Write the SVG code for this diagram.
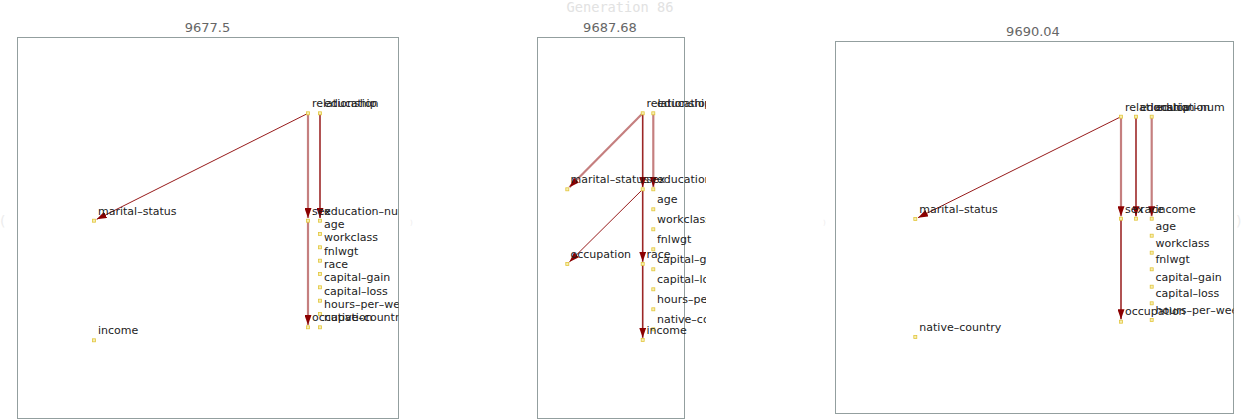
<svg xmlns="http://www.w3.org/2000/svg" width="1242" height="420" viewBox="0 0 1242 420">
<style>
.bg{fill:#ffffff}
.panel{fill:none;stroke:#939f9f;stroke-width:1}
.title{font-family:"DejaVu Sans",sans-serif;font-size:13px;fill:#666666;text-anchor:middle}
.gen{font-family:"DejaVu Sans Mono",monospace;font-size:13.7px;fill:#e2e2e2;text-anchor:middle}
.faint{font-family:"DejaVu Sans",sans-serif;fill:#ececec}
.lbl{font-family:"DejaVu Sans",sans-serif;font-size:11px;fill:#222222}
.sq{fill:#f7eeb0;stroke:#e2c53c;stroke-width:0.8}
.e-thin{fill:none;stroke:#8b0000;stroke-width:1;stroke-opacity:0.9}
.e-mid{fill:none;stroke:#8b0000;stroke-width:1.6;stroke-opacity:0.85}
.e-thick{fill:none;stroke:#8b0000;stroke-width:2.2;stroke-opacity:0.5}
.e-thin,.e-mid,.e-thick{marker-end:url(#arr)}
</style>
<defs>
<marker id="arr" markerUnits="userSpaceOnUse" markerWidth="10" markerHeight="7" refX="10" refY="3.5" orient="auto">
<path d="M0,0 L10,3.5 L0,7 Z" fill="#8b0000"/>
</marker>
<clipPath id="c1"><rect x="17" y="37" width="381.5" height="381.5"/></clipPath>
<clipPath id="c2"><rect x="537" y="37" width="169" height="381.5"/></clipPath>
<clipPath id="c3"><rect x="835" y="41" width="398.5" height="372.5"/></clipPath>
</defs>
<rect class="bg" x="0" y="0" width="1242" height="420"/>
<text class="gen" x="620" y="12">Generation 86</text>
<text class="faint" x="0" y="226" font-size="14">(</text>
<text class="faint" x="410" y="225" font-size="7">)</text>
<text class="faint" x="823" y="225" font-size="7">)</text>
<text class="faint" x="1236" y="226" font-size="14">)</text>

<!-- Panel 1 -->
<g id="panel1">
<text class="title" x="207.5" y="32">9677.5</text>
<rect class="panel" x="17.5" y="37.5" width="381" height="381"/>
<g clip-path="url(#c1)">
<g id="p1-connectors">
<line class="e-thin" x1="308" y1="113.3" x2="96.7" y2="219.3"/>
<line class="e-thick" x1="308" y1="113.3" x2="308" y2="218"/>
<line class="e-thick" x1="308" y1="220.7" x2="308" y2="325"/>
<line class="e-mid" x1="320" y1="113.3" x2="320" y2="218"/>
</g>
<g id="p1-relationship"><rect class="sq" x="306.5" y="111.8" width="3" height="3"/><text class="lbl" x="312" y="107.3">relationship</text></g>
<g id="p1-education"><rect class="sq" x="318.5" y="111.8" width="3" height="3"/><text class="lbl" x="324" y="107.3">education</text></g>
<g id="p1-marital-status"><rect class="sq" x="92.5" y="219.2" width="3" height="3"/><text class="lbl" x="98" y="214.7">marital–status</text></g>
<g id="p1-sex"><rect class="sq" x="306.5" y="219.2" width="3" height="3"/><text class="lbl" x="312" y="214.7">sex</text></g>
<g id="p1-education-num"><rect class="sq" x="318.5" y="219.2" width="3" height="3"/><text class="lbl" x="324" y="214.7">education–num</text></g>
<g id="p1-age"><rect class="sq" x="318.5" y="232.5" width="3" height="3"/><text class="lbl" x="324" y="228">age</text></g>
<g id="p1-workclass"><rect class="sq" x="318.5" y="245.8" width="3" height="3"/><text class="lbl" x="324" y="241.3">workclass</text></g>
<g id="p1-fnlwgt"><rect class="sq" x="318.5" y="259.2" width="3" height="3"/><text class="lbl" x="324" y="254.7">fnlwgt</text></g>
<g id="p1-race"><rect class="sq" x="318.5" y="272.5" width="3" height="3"/><text class="lbl" x="324" y="268">race</text></g>
<g id="p1-capital-gain"><rect class="sq" x="318.5" y="285.8" width="3" height="3"/><text class="lbl" x="324" y="281.3">capital–gain</text></g>
<g id="p1-capital-loss"><rect class="sq" x="318.5" y="299.2" width="3" height="3"/><text class="lbl" x="324" y="294.7">capital–loss</text></g>
<g id="p1-hours-per-week"><rect class="sq" x="318.5" y="312.5" width="3" height="3"/><text class="lbl" x="324" y="308">hours–per–week</text></g>
<g id="p1-native-country"><rect class="sq" x="318.5" y="325.8" width="3" height="3"/><text class="lbl" x="324" y="321.3">native–country</text></g>
<g id="p1-occupation"><rect class="sq" x="306.5" y="325.8" width="3" height="3"/><text class="lbl" x="312" y="321.3">occupation</text></g>
<g id="p1-income"><rect class="sq" x="92.5" y="338.8" width="3" height="3"/><text class="lbl" x="98" y="334.3">income</text></g>
</g>
</g>

<!-- Panel 2 -->
<g id="panel2">
<text class="title" x="610" y="32">9687.68</text>
<rect class="panel" x="537.5" y="37.5" width="147" height="381"/>
<g clip-path="url(#c2)">
<g id="p2-connectors">
<line class="e-thick" x1="642.7" y1="113.3" x2="569.4" y2="187.2"/>
<line class="e-mid" x1="642.7" y1="113.3" x2="642.7" y2="187"/>
<line class="e-thick" x1="653.3" y1="113.3" x2="653.3" y2="187"/>
<line class="e-thin" x1="642.7" y1="189.3" x2="569.4" y2="261.9"/>
<line class="e-mid" x1="642.7" y1="189.3" x2="642.7" y2="261.7"/>
<line class="e-mid" x1="642.7" y1="264" x2="642.7" y2="337.7"/>
</g>
<g id="p2-relationship"><rect class="sq" x="641.2" y="111.8" width="3" height="3"/><text class="lbl" x="646.5" y="107.3">relationship</text></g>
<g id="p2-education"><rect class="sq" x="651.8" y="111.8" width="3" height="3"/><text class="lbl" x="657" y="107.3">education</text></g>
<g id="p2-marital-status"><rect class="sq" x="565.8" y="187.8" width="3" height="3"/><text class="lbl" x="570.5" y="183.3">marital–status</text></g>
<g id="p2-sex"><rect class="sq" x="641.2" y="187.8" width="3" height="3"/><text class="lbl" x="646.5" y="183.3">sex</text></g>
<g id="p2-education-num"><rect class="sq" x="651.8" y="187.8" width="3" height="3"/><text class="lbl" x="657" y="183.3">education–num</text></g>
<g id="p2-age"><rect class="sq" x="651.8" y="207.8" width="3" height="3"/><text class="lbl" x="657" y="203.3">age</text></g>
<g id="p2-workclass"><rect class="sq" x="651.8" y="227.8" width="3" height="3"/><text class="lbl" x="657" y="223.3">workclass</text></g>
<g id="p2-fnlwgt"><rect class="sq" x="651.8" y="247.8" width="3" height="3"/><text class="lbl" x="657" y="243.3">fnlwgt</text></g>
<g id="p2-capital-gain"><rect class="sq" x="651.8" y="267.8" width="3" height="3"/><text class="lbl" x="657" y="263.3">capital–gain</text></g>
<g id="p2-capital-loss"><rect class="sq" x="651.8" y="287.8" width="3" height="3"/><text class="lbl" x="657" y="283.3">capital–loss</text></g>
<g id="p2-hours-per-week"><rect class="sq" x="651.8" y="307.8" width="3" height="3"/><text class="lbl" x="657" y="303.3">hours–per–week</text></g>
<g id="p2-native-country"><rect class="sq" x="651.8" y="327.8" width="3" height="3"/><text class="lbl" x="657" y="323.3">native–country</text></g>
<g id="p2-occupation"><rect class="sq" x="565.8" y="262.5" width="3" height="3"/><text class="lbl" x="570.5" y="258">occupation</text></g>
<g id="p2-race"><rect class="sq" x="641.2" y="262.5" width="3" height="3"/><text class="lbl" x="646.5" y="258">race</text></g>
<g id="p2-income"><rect class="sq" x="641.2" y="338.5" width="3" height="3"/><text class="lbl" x="646.5" y="334">income</text></g>
</g>
</g>

<!-- Panel 3 -->
<g id="panel3">
<text class="title" x="1033" y="36">9690.04</text>
<rect class="panel" x="835.5" y="41.5" width="398" height="372"/>
<g clip-path="url(#c3)">
<g id="p3-connectors">
<line class="e-thin" x1="1121" y1="116.7" x2="918" y2="217.7"/>
<line class="e-thick" x1="1121" y1="116.7" x2="1121" y2="216.3"/>
<line class="e-mid" x1="1121" y1="218.7" x2="1121" y2="319.3"/>
<line class="e-mid" x1="1136" y1="116.7" x2="1136" y2="216.3"/>
<line class="e-thick" x1="1151.7" y1="116.7" x2="1151.7" y2="216.3"/>
</g>
<g id="p3-relationship"><rect class="sq" x="1119.5" y="115.2" width="3" height="3"/><text class="lbl" x="1125" y="110.7">relationship</text></g>
<g id="p3-education-num"><rect class="sq" x="1134.5" y="115.2" width="3" height="3"/><text class="lbl" x="1140" y="110.7">education–num</text></g>
<g id="p3-education"><rect class="sq" x="1150.2" y="115.2" width="3" height="3"/><text class="lbl" x="1155.5" y="110.7">education</text></g>
<g id="p3-marital-status"><rect class="sq" x="913.8" y="217.5" width="3" height="3"/><text class="lbl" x="919.3" y="212.5">marital–status</text></g>
<g id="p3-sex"><rect class="sq" x="1119.5" y="217.2" width="3" height="3"/><text class="lbl" x="1125" y="212.7">sex</text></g>
<g id="p3-race"><rect class="sq" x="1134.5" y="217.2" width="3" height="3"/><text class="lbl" x="1140" y="212.7">race</text></g>
<g id="p3-income"><rect class="sq" x="1150.2" y="217.2" width="3" height="3"/><text class="lbl" x="1155.5" y="212.7">income</text></g>
<g id="p3-age"><rect class="sq" x="1150.2" y="234.2" width="3" height="3"/><text class="lbl" x="1155.5" y="229.7">age</text></g>
<g id="p3-workclass"><rect class="sq" x="1150.2" y="251.2" width="3" height="3"/><text class="lbl" x="1155.5" y="246.7">workclass</text></g>
<g id="p3-fnlwgt"><rect class="sq" x="1150.2" y="267.8" width="3" height="3"/><text class="lbl" x="1155.5" y="263.3">fnlwgt</text></g>
<g id="p3-capital-gain"><rect class="sq" x="1150.2" y="285.2" width="3" height="3"/><text class="lbl" x="1155.5" y="280.7">capital–gain</text></g>
<g id="p3-capital-loss"><rect class="sq" x="1150.2" y="301.8" width="3" height="3"/><text class="lbl" x="1155.5" y="297.3">capital–loss</text></g>
<g id="p3-hours-per-week"><rect class="sq" x="1150.2" y="318.5" width="3" height="3"/><text class="lbl" x="1155.5" y="314">hours–per–week</text></g>
<g id="p3-occupation"><rect class="sq" x="1119.5" y="320.2" width="3" height="3"/><text class="lbl" x="1125" y="315.2">occupation</text></g>
<g id="p3-native-country"><rect class="sq" x="913.8" y="335.5" width="3" height="3"/><text class="lbl" x="919.3" y="330.5">native–country</text></g>
</g>
</g>
</svg>
